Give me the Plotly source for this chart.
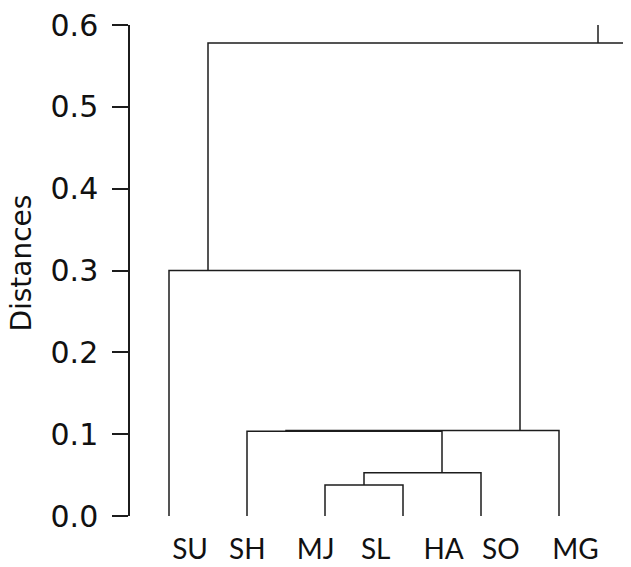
import plotly.graph_objects as go

# Dendrogram link coordinates (scipy-style icoord / dcoord)
link_x = [
    [25, 25, 35, 35],
    [30, 30, 45, 45],
    [15, 15, 40, 40],
    [20, 20, 55, 55],
    [5, 5, 50, 50],
    [10, 10, 110, 110],
]
link_h = [
    [0.0, 0.038, 0.038, 0.0],
    [0.038, 0.053, 0.053, 0.0],
    [0.0, 0.1035, 0.1035, 0.053],
    [0.1035, 0.1045, 0.1045, 0.0],
    [0.0, 0.300, 0.300, 0.1045],
    [0.300, 0.578, 0.578, 0.40],
]
root_x = [60, 60]
root_h = [0.578, 0.600]

leaf_labels = ["SU", "SH", "MJ", "SL", "HA", "SO", "MG"]
label_pos = [7.7, 15.05, 23.8, 31.5, 40.2, 47.55, 57.1]

y_ticks = [0.0, 0.1, 0.2, 0.3, 0.4, 0.5, 0.6]
y_ticktext = ["0.0", "0.1", "0.2", "0.3", "0.4", "0.5", "0.6"]
y_title = "Distances"

xs, ys = [], []
for xx, hh in zip(link_x, link_h):
    xs += xx + [None]
    ys += hh + [None]
xs += root_x
ys += root_h

LINE = "#1c1c1c"
fig = go.Figure()
fig.add_trace(go.Scatter(x=xs, y=ys, mode="lines",
                         line=dict(color=LINE, width=1.5),
                         hoverinfo="skip", showlegend=False))

fig.update_layout(
    width=623, height=559,
    margin=dict(l=122, r=0, t=17, b=51),
    paper_bgcolor="white", plot_bgcolor="white",
    showlegend=False,
)
fig.update_xaxes(
    range=[0, 501 / 7.8],
    showgrid=False, zeroline=False, showline=False,
    tickmode="array", tickvals=label_pos, ticktext=leaf_labels,
    ticks="outside", ticklen=8, tickcolor="rgba(0,0,0,0)",
    tickfont=dict(family="Lato", size=28, color="#111111"),
)
fig.update_yaxes(
    range=[0, 0.6],
    showgrid=False, zeroline=False,
    showline=True, linecolor=LINE, linewidth=1.5,
    tickmode="array", tickvals=y_ticks, ticktext=y_ticktext,
    ticks="outside", ticklen=16, tickwidth=1.5, tickcolor=LINE,
    ticklabelstandoff=8, ticklabeloverflow="allow",
    tickfont=dict(family="DejaVu Sans", size=30, color="#111111"),
)
fig.add_annotation(
    text=y_title, textangle=-90, showarrow=False,
    xref="paper", yref="paper", x=-0.2166, y=0.515,
    xanchor="center", yanchor="middle",
    font=dict(family="DejaVu Sans", size=28, color="#111111"),
)

fig.write_html("out.html")
